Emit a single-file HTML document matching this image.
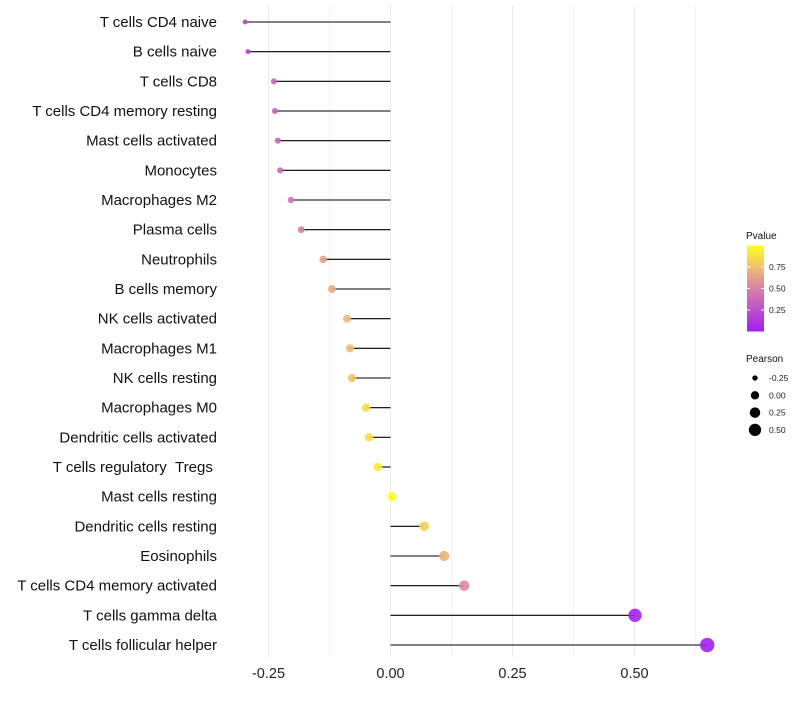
<!DOCTYPE html>
<html><head><meta charset="utf-8"><style>
body{margin:0;background:#fff;font-family:"Liberation Sans",sans-serif}
</style></head><body>
<svg id="chart" width="800" height="700" xmlns="http://www.w3.org/2000/svg">
<defs><linearGradient id="pg" x1="0" y1="1" x2="0" y2="0">
<stop offset="0" stop-color="#a020f0"/><stop offset="0.5" stop-color="#d880a8"/><stop offset="0.75" stop-color="#f0c070"/><stop offset="1" stop-color="#ffff20"/></linearGradient></defs>
<g id="grid"></g><g id="marks"></g><g id="labels"></g><g id="legend"></g>
</svg>
<script>
const categories=["T cells CD4 naive","B cells naive","T cells CD8","T cells CD4 memory resting","Mast cells activated","Monocytes","Macrophages M2","Plasma cells","Neutrophils","B cells memory","NK cells activated","Macrophages M1","NK cells resting","Macrophages M0","Dendritic cells activated","T cells regulatory\u00a0\u00a0Tregs\u00a0","Mast cells resting","Dendritic cells resting","Eosinophils","T cells CD4 memory activated","T cells gamma delta","T cells follicular helper"];
const pearson=[-0.298,-0.292,-0.239,-0.237,-0.231,-0.226,-0.204,-0.183,-0.138,-0.120,-0.089,-0.083,-0.079,-0.050,-0.044,-0.026,0.003,0.069,0.110,0.151,0.501,0.649];
const pvalue=[0.2,0.2,0.35,0.35,0.37,0.38,0.45,0.48,0.62,0.66,0.72,0.74,0.76,0.86,0.87,0.92,1.0,0.82,0.7,0.55,0.02,0.01];
const xTicks=[-0.25,0,0.25,0.5];
const xTickLabels=["-0.25","0.00","0.25","0.50"];
const pTicks=[0.25,0.5,0.75];
const sizeTicks=[-0.25,0,0.25,0.5];
const NS="http://www.w3.org/2000/svg";
const X=v=>390.5+v*488;
const Y=i=>22+i*(623/21);
const R=v=>Math.sqrt(Math.max(2.2,20.5+48*v));
function lerp(a,b,t){return a.map((x,i)=>Math.round(x+(b[i]-x)*t));}
function col(p){const s=[[0,[160,32,240]],[0.5,[216,128,168]],[0.75,[240,192,112]],[1,[255,255,32]]];
for(let k=1;k<s.length;k++){if(p<=s[k][0]){const t=(p-s[k-1][0])/(s[k][0]-s[k-1][0]);return "rgb("+lerp(s[k-1][1],s[k][1],t).join(",")+")";}}return "rgb(255,255,32)";}
function mk(tag,at,parent){const e=document.createElementNS(NS,tag);for(const k in at)e.setAttribute(k,at[k]);document.getElementById(parent).appendChild(e);return e;}
const grid=[-0.25,-0.125,0,0.125,0.25,0.375,0.5,0.625];
grid.forEach(g=>{const l=mk("line",{x1:X(g),x2:X(g),y1:5,y2:657,stroke:"#ebebeb","stroke-width":g*8%2==0?1:0.6},"grid");

});
xTicks.forEach((t,i)=>{const e=mk("text",{x:X(t),y:678,"text-anchor":"middle","font-size":"14.5",fill:"#222"},"labels");e.textContent=xTickLabels[i];

});
categories.forEach((c,i)=>{const y=Y(i);
const t=mk("text",{x:217,y:y+5,"text-anchor":"end","font-size":"15",fill:"#111"},"labels");t.textContent=c;


const l=mk("line",{x1:X(0),x2:X(pearson[i]),y1:y,y2:y,stroke:"#000","stroke-width":1.1},"marks");


const p=mk("circle",{cx:X(pearson[i]),cy:y,r:R(pearson[i]),fill:col(pvalue[i]),"fill-opacity":0.9},"marks");

});
const lt=mk("text",{x:746,y:239,"font-size":"10",fill:"#111"},"legend");lt.textContent="Pvalue";


const cb=mk("rect",{x:747,y:245.5,width:17,height:86,fill:"url(#pg)"},"legend");


pTicks.forEach(p=>{const y=331.5-p*86;
const e=mk("text",{x:769,y:y+3,"font-size":"8.5",fill:"#222"},"legend");e.textContent=p.toFixed(2);


mk("line",{x1:747,x2:750,y1:y,y2:y,stroke:"#fff"},"legend");mk("line",{x1:761,x2:764,y1:y,y2:y,stroke:"#fff"},"legend");});
const st=mk("text",{x:746,y:362,"font-size":"10",fill:"#111"},"legend");st.textContent="Pearson";


sizeTicks.forEach((s,i)=>{const y=378+i*17.3;
const c=mk("circle",{cx:755,cy:y,r:R(s)*0.92,fill:"#000"},"legend");


const e=mk("text",{x:769,y:y+3,"font-size":"8.5",fill:"#222"},"legend");e.textContent=s.toFixed(2);

});
</script>
</body></html>
